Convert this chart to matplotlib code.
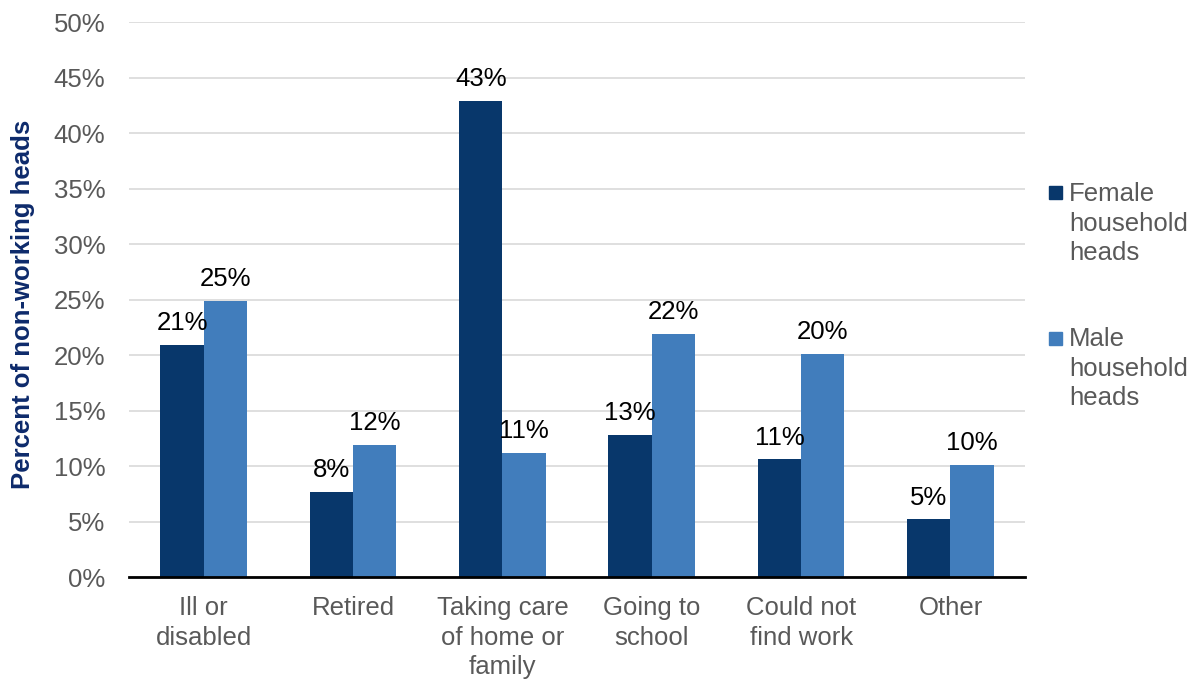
import matplotlib.pyplot as plt
from matplotlib.patches import Rectangle
import numpy as np

plt.rcParams['font.family'] = ['Liberation Sans', 'DejaVu Sans']

categories = ['Ill or\ndisabled', 'Retired', 'Taking care\nof home or\nfamily',
              'Going to\nschool', 'Could not\nfind work', 'Other']
female = [20.9, 7.7, 42.9, 12.8, 10.6, 5.2]
male = [24.9, 11.9, 11.2, 21.9, 20.1, 10.1]
series_names = ['Female\nhousehold\nheads', 'Male\nhousehold\nheads']

female_color = '#08376b'
male_color = '#417dbc'
grey_text = '#595959'
fs = 18.5

fig = plt.figure(figsize=(11.99, 6.79), dpi=100)
ax = fig.add_axes([0.1076, 0.1502, 0.855 - 0.1076, 0.9669 - 0.1502])

x = np.arange(len(categories))
w = 0.29
b1 = ax.bar(x - w / 2, female, w, color=female_color, zorder=3)
b2 = ax.bar(x + w / 2, male, w, color=male_color, zorder=3)

for bars, vals in ((b1, female), (b2, male)):
    for rect, v in zip(bars, vals):
        ax.annotate(f'{v:.0f}%', (rect.get_x() + rect.get_width() / 2, v),
                    xytext=(0, 7), textcoords='offset points',
                    ha='center', va='bottom', fontsize=fs, color='black')

ax.set_xlim(-0.5, len(categories) - 0.5)
ax.set_ylim(0, 50)
ax.set_yticks(np.arange(0, 51, 5))
ax.set_yticklabels([f'{t}%' for t in range(0, 51, 5)])
ax.set_xticks(x)
ax.set_xticklabels(categories, linespacing=1.28)
ax.tick_params(axis='both', length=0, labelsize=fs, labelcolor=grey_text)
ax.tick_params(axis='y', pad=17)
ax.tick_params(axis='x', pad=14)

ax.grid(axis='y', color='#d9d9d9', linewidth=1.2, zorder=0)
for side in ('left', 'right', 'top'):
    ax.spines[side].set_visible(False)
ax.spines['bottom'].set_color('black')
ax.spines['bottom'].set_linewidth(2)
ax.spines['bottom'].set_zorder(4)

fig.text(0.019, 0.552, 'Percent of non-working heads', rotation=90,
         ha='center', va='center', fontsize=18.5, fontweight='bold', color='#0d2a6b')

# legend: square marker sits level with the first line of each label
legend_rows = [(series_names[0], female_color, 0.6925, 0.637),
               (series_names[1], male_color, 0.431, 0.3757)]
sq_w, sq_h = 13 / 896, 13 / 554.5
for name, color, sq_y, text_y in legend_rows:
    ax.add_patch(Rectangle((1.0268, sq_y - sq_h / 2), sq_w, sq_h, color=color,
                           transform=ax.transAxes, clip_on=False))
    ax.text(1.049, text_y, name, transform=ax.transAxes, ha='left', va='center',
            fontsize=fs, color=grey_text, linespacing=1.28)

fig.savefig('out.png', dpi=100)
